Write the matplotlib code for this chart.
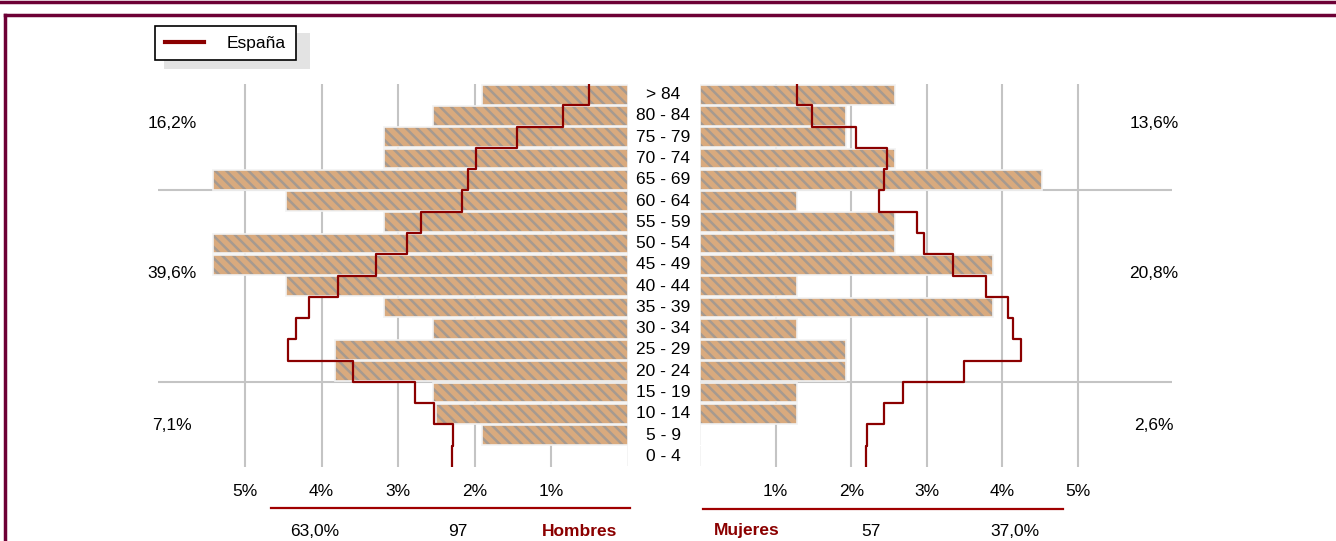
import numpy as np
import matplotlib
matplotlib.use('Agg')
import matplotlib.pyplot as plt
from matplotlib.lines import Line2D
from matplotlib.patches import Rectangle
from matplotlib.transforms import blended_transform_factory

plt.rcParams['font.family'] = ['Liberation Sans', 'DejaVu Sans']
plt.rcParams['hatch.linewidth'] = 1.8

# age groups, bottom to top
ages = ['0 - 4', '5 - 9', '10 - 14', '15 - 19', '20 - 24', '25 - 29', '30 - 34', '35 - 39',
        '40 - 44', '45 - 49', '50 - 54', '55 - 59', '60 - 64', '65 - 69', '70 - 74',
        '75 - 79', '80 - 84', '> 84']
hombres = [0, 1.91, 2.51, 2.55, 3.83, 3.83, 2.55, 3.19, 4.47, 5.42, 5.42, 3.19, 4.47,
           5.42, 3.19, 3.19, 2.55, 1.91]
mujeres = [0, 0, 1.28, 1.28, 1.93, 1.93, 1.28, 3.88, 1.28, 3.88, 2.58, 2.58, 1.28,
           4.52, 2.58, 1.93, 1.93, 2.58]
espana_h = [2.30, 2.28, 2.53, 2.78, 3.59, 4.44, 4.33, 4.16, 3.79, 3.29, 2.89, 2.70,
            2.17, 2.09, 1.98, 1.45, 0.85, 0.51]
espana_m = [2.20, 2.21, 2.43, 2.69, 3.49, 4.25, 4.14, 4.07, 3.78, 3.35, 2.96, 2.87,
            2.37, 2.43, 2.47, 2.06, 1.48, 1.28]
ticks = [1, 2, 3, 4, 5]
tick_labels = ['1%', '2%', '3%', '4%', '5%']
grupos_h = ['7,1%', '39,6%', '16,2%']
grupos_m = ['2,6%', '20,8%', '13,6%']
totales_h = ['63,0%', '97', 'Hombres']
totales_m = ['Mujeres', '57', '37,0%']

W, H = 1336, 541
fs = 12.5
fig = plt.figure(figsize=(W / 100, H / 100), dpi=100)

top_px, bot_px = 84, 467
ax_l = fig.add_axes([158 / W, 1 - bot_px / H, 470 / W, (bot_px - top_px) / H])
ax_r = fig.add_axes([700 / W, 1 - bot_px / H, 472 / W, (bot_px - top_px) / H])

y = np.arange(len(ages))
red = '#8b0000'
grid_c = '#c4c4c4'

def step_xy(vals):
    xs = np.repeat(vals, 2)
    ys = np.column_stack([y - 0.5, y + 0.5]).ravel()
    return xs, ys

for ax, vals, esp, xmax in [(ax_l, hombres, espana_h, 470 / 76.6),
                            (ax_r, mujeres, espana_m, 472 / 75.6)]:
    # textured bars: warm base with gray diagonal stripes, then a light outline
    ax.barh(y, vals, height=0.93, color='#d9aa7e', edgecolor='#a69a90', hatch='\\\\\\',
            linewidth=0, zorder=2)
    ax.barh(y, vals, height=0.93, fill=False, edgecolor='#f2f2f2', linewidth=1.2, zorder=3)
    xs, ys = step_xy(esp)
    ax.plot(xs, ys, color=red, lw=1.6, zorder=4)
    ax.axhline(3.5, color=grid_c, lw=1.5, zorder=1)
    ax.axhline(12.5, color=grid_c, lw=1.5, zorder=1)
    ax.set_xticks(ticks)
    ax.set_xticklabels(tick_labels, fontsize=fs)
    ax.tick_params(length=0, pad=12)
    ax.set_yticks([])
    ax.grid(axis='x', color=grid_c, lw=1.5)
    ax.set_axisbelow(True)
    ax.set_ylim(-0.5, 17.5)
    for s in ax.spines.values():
        s.set_visible(False)
    if ax is ax_l:
        ax.set_xlim(xmax, 0)
    else:
        ax.set_xlim(0, xmax)

# age labels in the middle
tr = blended_transform_factory(fig.transFigure, ax_r.transData)
for yi, a in zip(y, ages):
    fig.text(663 / W, yi, a, transform=tr, ha='center', va='center', fontsize=fs)

# block percentages
for txt_h, txt_m, py in zip(grupos_h, grupos_m, [426, 273, 123]):
    fig.text(172 / W, 1 - py / H, txt_h, ha='center', va='center', fontsize=fs)
    fig.text(1154 / W, 1 - py / H, txt_m, ha='center', va='center', fontsize=fs)

# bottom red rules and totals
fig.add_artist(Line2D([271 / W, 630 / W], [1 - 508 / H] * 2, color='#a00000', lw=1.6))
fig.add_artist(Line2D([703 / W, 1063 / W], [1 - 509 / H] * 2, color='#a00000', lw=1.6))
for txt, px in zip(totales_h, [315, 458, 580]):
    bold = txt == 'Hombres'
    fig.text(px / W, 1 - 531 / H, txt, ha='center', va='center', fontsize=fs,
             fontweight='bold' if bold else 'normal', color=red if bold else 'black')
for txt, px in zip(totales_m, [747, 871, 1015]):
    bold = txt == 'Mujeres'
    fig.text(px / W, 1 - 531 / H, txt, ha='center', va='center', fontsize=fs,
             fontweight='bold' if bold else 'normal', color=red if bold else 'black')

# legend with flat gray shadow
fig.add_artist(Rectangle((164 / W, 1 - 69 / H), 146 / W, 36 / H, transform=fig.transFigure,
                         facecolor='#e3e3e3', edgecolor='none', zorder=1))
leg = fig.legend([Line2D([], [], color=red, lw=3)], ['España'], loc='upper left',
                 bbox_to_anchor=(155 / W, 1 - 26 / H), borderaxespad=0, fancybox=False,
                 frameon=True, edgecolor='black', framealpha=1, fontsize=fs,
                 borderpad=0.55, handlelength=2.3, handletextpad=1.3)
leg.get_frame().set_linewidth(1.2)
leg.set_zorder(5)

# outer frame
frame_c = '#6d0035'
fig.add_artist(Line2D([0, 1], [1 - 1.5 / H] * 2, color=frame_c, lw=2.5))
fig.add_artist(Line2D([5 / W, 1], [1 - 14.5 / H] * 2, color=frame_c, lw=2.5))
fig.add_artist(Line2D([5 / W, 5 / W], [0, 1 - 14.5 / H], color=frame_c, lw=2.5))

fig.savefig('out.png', dpi=100)
